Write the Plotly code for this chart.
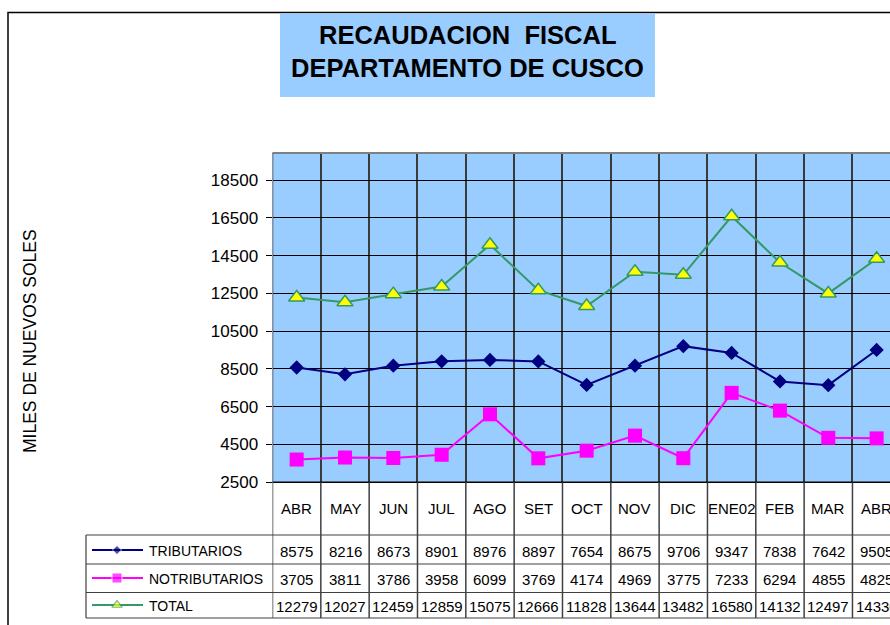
import plotly.graph_objects as go

# ---------------- data ----------------
months = ["ABR", "MAY", "JUN", "JUL", "AGO", "SET", "OCT", "NOV", "DIC", "ENE02", "FEB", "MAR", "ABR"]
tributarios = [8575, 8216, 8673, 8901, 8976, 8897, 7654, 8675, 9706, 9347, 7838, 7642, 9505]
notributarios = [3705, 3811, 3786, 3958, 6099, 3769, 4174, 4969, 3775, 7233, 6294, 4855, 4825]
total = [12279, 12027, 12459, 12859, 15075, 12666, 11828, 13644, 13482, 16580, 14132, 12497, 14330]
y_ticks = [2500, 4500, 6500, 8500, 10500, 12500, 14500, 16500, 18500]
series_names = ["TRIBUTARIOS", "NOTRIBUTARIOS", "TOTAL"]
title_lines = ["RECAUDACION  FISCAL", "DEPARTAMENTO DE CUSCO"]
y_title = "MILES DE NUEVOS SOLES"

# ---------------- layout geometry (pixels) ----------------
W, H = 890, 625
PL, PT, PB = 272.5, 153, 482.3      # plot area left / top / bottom
CW = 48.33                          # category column width
X_MAX = -0.5 + (W - PL) / CW
Y_TOP = 2500 + (PB - PT) * (16000 / (PB - 180))

FONT = "Arial, Liberation Sans, sans-serif"
NAVY, MAGENTA, GREEN, YELLOW = "#000080", "#FF00FF", "#339966", "#FFFF00"
BLUE_BG = "#99CCFF"

x_idx = list(range(len(months)))

fig = go.Figure()
fig.add_trace(go.Scatter(x=x_idx, y=total, name="TOTAL", mode="lines+markers",
                         line=dict(color=GREEN, width=2),
                         marker=dict(symbol="triangle-up", size=14, color=YELLOW,
                                     line=dict(color=GREEN, width=1.5)),
                         cliponaxis=False))
fig.add_trace(go.Scatter(x=x_idx, y=tributarios, name="TRIBUTARIOS", mode="lines+markers",
                         line=dict(color=NAVY, width=2),
                         marker=dict(symbol="diamond", size=11, color=NAVY),
                         cliponaxis=False))
fig.add_trace(go.Scatter(x=x_idx, y=notributarios, name="NOTRIBUTARIOS", mode="lines+markers",
                         line=dict(color=MAGENTA, width=2),
                         marker=dict(symbol="square", size=14, color=MAGENTA),
                         cliponaxis=False))

# legend-column symbols (pixel overlay axes)
row_y = [550, 578, 605]
leg_styles = [
    dict(line=dict(color=NAVY, width=2), marker=dict(symbol="diamond", size=[0, 7, 0], color=NAVY)),
    dict(line=dict(color=MAGENTA, width=2), marker=dict(symbol="square", size=[0, 10, 0], color=MAGENTA)),
    dict(line=dict(color=GREEN, width=2), marker=dict(symbol="triangle-up", size=[0, 9, 0], color=YELLOW,
                                                        line=dict(color=GREEN, width=1.2))),
]
for ry, st in zip(row_y, leg_styles):
    fig.add_trace(go.Scatter(x=[92, 117, 143], y=[ry, ry, ry], mode="lines+markers",
                             xaxis="x2", yaxis="y2", hoverinfo="skip", **st))

shapes = []
# plot background
shapes.append(dict(type="rect", xref="x domain", yref="y domain", x0=0, x1=1, y0=0, y1=1,
                   fillcolor=BLUE_BG, line=dict(width=0), layer="below"))
# outer frame
shapes.append(dict(type="rect", xref="x2", yref="y2", x0=8, y0=12.5, x1=W + 20, y1=H + 20,
                   line=dict(color="black", width=1.5), fillcolor="rgba(0,0,0,0)"))
# title box
shapes.append(dict(type="rect", xref="x2", yref="y2", x0=280, y0=13.5, x1=655, y1=97,
                   fillcolor=BLUE_BG, line=dict(width=0)))
# plot borders
shapes.append(dict(type="line", xref="x2", yref="y2", x0=PL, x1=W + 5, y0=PT, y1=PT,
                   line=dict(color="#808080", width=2)))
shapes.append(dict(type="line", xref="x2", yref="y2", x0=PL, x1=W + 5, y0=PB, y1=PB,
                   line=dict(color="black", width=1.5)))
# table horizontal lines
for yy in [535, 564, 592.5, 618]:
    shapes.append(dict(type="line", xref="x2", yref="y2", x0=86, x1=W + 5, y0=yy, y1=yy,
                       line=dict(color="#404040", width=1.2)))
shapes.append(dict(type="line", xref="x2", yref="y2", x0=86, x1=86, y0=535, y1=618,
                   line=dict(color="#404040", width=1.2)))
# column separators through plot bottom and table
for k in range(len(months) + 1):
    shapes.append(dict(type="line", xref="x", yref="y2", x0=k - 0.5, x1=k - 0.5, y0=PT if k == 0 else PB,
                       y1=618, line=dict(color="#404040", width=1.5)))

annotations = []
# title
for txt, yy in zip(title_lines, [35, 68]):
    annotations.append(dict(xref="x2", yref="y2", x=467.5, y=yy, text=f"<b>{txt}</b>", showarrow=False,
                            font=dict(family=FONT, size=25.5, color="black")))
# y-axis title
annotations.append(dict(xref="x2", yref="y2", x=30, y=341, text=y_title, textangle=-90, showarrow=False,
                        font=dict(family=FONT, size=17.5, color="black")))
# header months
for i, m in enumerate(months):
    annotations.append(dict(xref="x", yref="y2", x=i, y=508, text=m, showarrow=False,
                            font=dict(family=FONT, size=15, color="black")))
# data rows
for ry, vals in zip(row_y, [tributarios, notributarios, total]):
    for i, v in enumerate(vals):
        annotations.append(dict(xref="x", yref="y2", x=i, y=ry + 1, text=str(v), showarrow=False,
                                font=dict(family=FONT, size=15, color="black")))
# series names
for ry, nm in zip(row_y, series_names):
    annotations.append(dict(xref="x2", yref="y2", x=147, y=ry + 1, text=nm, xanchor="left", showarrow=False,
                            font=dict(family=FONT, size=14, color="black")))

fig.update_layout(
    width=W, height=H,
    margin=dict(l=0, r=0, t=0, b=0),
    paper_bgcolor="white", plot_bgcolor="rgba(0,0,0,0)",
    showlegend=False,
    xaxis=dict(domain=[PL / W, 1], range=[-0.5, X_MAX], tickmode="linear", tick0=0.5, dtick=1,
               showticklabels=False, ticks="", showgrid=True, gridcolor="#3a3a3a", gridwidth=1.5,
               zeroline=False, showline=False, fixedrange=True, automargin=False),
    yaxis=dict(domain=[(H - PB) / H, (H - PT) / H], range=[2500, Y_TOP],
               tickmode="array", tickvals=y_ticks, ticktext=[str(v) for v in y_ticks],
               ticks="outside", ticklen=6, tickcolor="black", tickwidth=1, ticklabelstandoff=4,
               tickfont=dict(family=FONT, size=17, color="black"),
               showgrid=True, gridcolor="black", gridwidth=1, zeroline=False,
               showline=False, fixedrange=True, automargin=False),
    xaxis2=dict(domain=[0, 1], range=[0, W], anchor="y2", visible=False, fixedrange=True, automargin=False),
    yaxis2=dict(domain=[0, 1], range=[H, 0], anchor="x2", visible=False, fixedrange=True, automargin=False),
    shapes=shapes,
    annotations=annotations,
)

fig.write_html("out.html", config={"displayModeBar": False},
               post_script="document.body.style.margin='0';document.body.style.overflow='hidden';")
